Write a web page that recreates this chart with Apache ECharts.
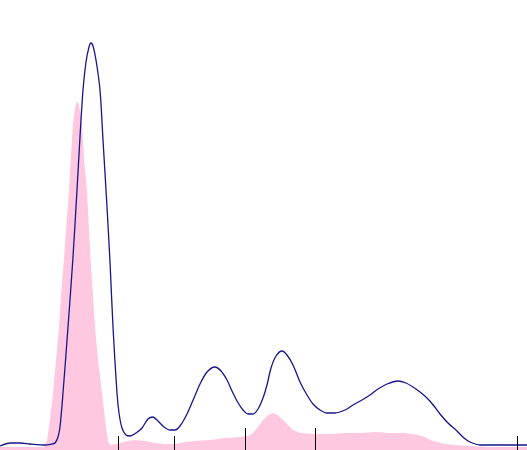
<!DOCTYPE html>
<html>
<head>
<meta charset="utf-8">
<script src="https://cdn.jsdelivr.net/npm/echarts@6/dist/echarts.min.js"></script>
<style>
html,body{margin:0;padding:0;background:#fff;}
#chart{width:527px;height:450px;}
</style>
</head>
<body>
<div id="chart"></div>
<script>
// x position (arbitrary units) and heights
var blueX = [0,10,20,30,45,52,55,58,60,63,68,73,77,80,83,86,89,91,93,96,100,103,107,110,113,117,119,122,126,130,136,142,148,153,158,164,170,175,180,187,194,200,207,215,221,227,232,237,243,248,253,258,263,267,271,276,282,287,293,300,307,313,320,327,335,345,353,362,370,378,387,398,406,413,420,427,434,440,448,457,464,470,480,527];
var blueY = [4,7,7,6,5,6,7,13,23,57,123,193,260,313,360,388,403,407,404,390,360,310,243,188,123,57,37,22,15,14,17,22,31,33,29,23,20,20,24,36,52,66,78,83,79,70,59,49,40,36,36,41,52,65,82,94,99,95,85,68,55,46,40,37,37,40,45,50,55,61,66,69,67,63,58,52,44,36,27,19,12,8,5,5];
var pinkX = [0,44,46,47,49,51,53,56,59,61,63.5,66,69,71,73,75,77,79,82,84,87,89,91,93,95,98,102,104,106,108,110,115,120,127,135,145,155,165,175,185,195,210,225,240,248,253,258,263,268,273,278,283,288,293,300,315,330,345,360,375,390,405,418,425,430,437,445,455,470,490,527];
var pinkY = [3,3,7,10,23,40,57,90,123,155,185,220,260,295,327,342,349,345,327,290,260,220,185,155,123,90,57,40,23,9,5,6,7,9,10,9,7,6,6,8,9,10,12,13,14,17,23,30,35,37,35,30,25,20,17,16,16,17,17,18,17,17,15,13,10,8,6,5,4,3,3];
var majorTicks = [245, 315];
var minorTicks = [118, 174, 517];

function pairs(xs, ys){ return xs.map(function(x,i){ return [x, ys[i]]; }); }

var chart = echarts.init(document.getElementById('chart'), null, {renderer:'canvas'});
var axisBase = {type:'value', min:0, max:527, position:'bottom', z:10,
  axisLine:{show:false}, axisLabel:{show:false}, splitLine:{show:false}};
chart.setOption({
  animation:false,
  grid:{left:0,right:0,top:0,bottom:0},
  xAxis:[
    Object.assign({}, axisBase, {axisTick:{show:true, inside:true, length:14, customValues:minorTicks, lineStyle:{color:'#000', width:1}}}),
    Object.assign({}, axisBase, {axisTick:{show:true, inside:true, length:22, customValues:majorTicks, lineStyle:{color:'#000', width:1}}})
  ],
  yAxis:{type:'value', min:0, max:450, show:false},
  series:[
    {type:'line', data:pairs(pinkX, pinkY), showSymbol:false, symbol:'none',
     lineStyle:{width:0}, areaStyle:{color:'#ffc8e1', opacity:1}, z:1},
    {type:'line', data:pairs(blueX, blueY), showSymbol:false, symbol:'none', smooth:0.3,
     lineStyle:{color:'#16168c', width:1.3}, z:3}
  ]
});
</script>
</body>
</html>
